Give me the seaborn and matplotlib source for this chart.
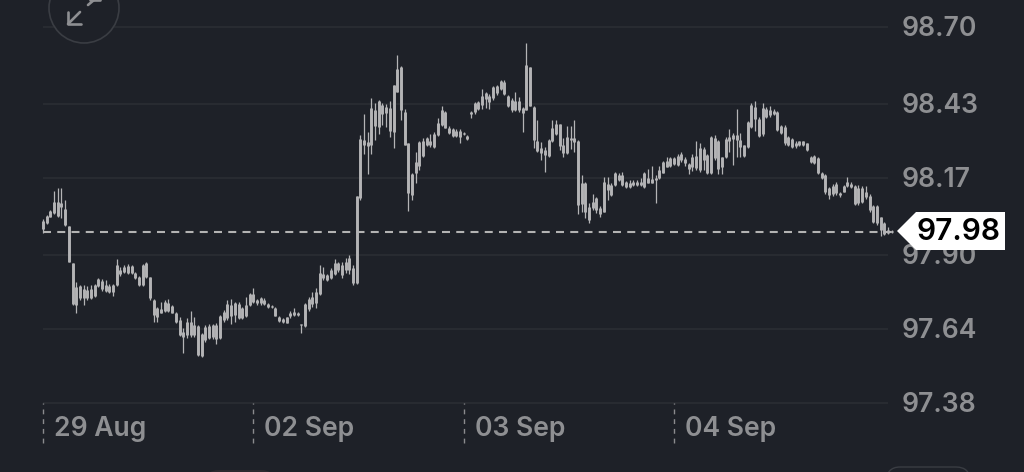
import pandas as pd
import seaborn as sns
import matplotlib
matplotlib.use("Agg")
import matplotlib.pyplot as plt
from matplotlib.patches import Circle, Polygon, FancyBboxPatch

# CANDLE DATA
highs = [98.025,98.040,98.057,98.125,98.133,98.133,98.092,98.001,97.873,97.804,
97.794,97.794,97.792,97.794,97.798,97.818,97.814,97.812,97.798,97.798,
97.884,97.858,97.864,97.867,97.864,97.841,97.826,97.868,97.875,97.823,
97.744,97.718,97.736,97.741,97.744,97.724,97.701,97.683,97.642,97.677,
97.704,97.683,97.654,97.627,97.654,97.656,97.657,97.660,97.689,97.706,
97.741,97.744,97.736,97.733,97.718,97.753,97.767,97.782,97.744,97.753,
97.747,97.732,97.724,97.716,97.685,97.677,97.683,97.704,97.715,97.698,
97.657,97.732,97.751,97.771,97.782,97.863,97.856,97.833,97.853,97.884,
97.876,97.875,97.889,97.899,97.864,98.107,98.320,98.393,98.332,98.451,
98.432,98.443,98.434,98.429,98.441,98.496,98.601,98.563,98.411,98.291,
98.186,98.262,98.301,98.309,98.312,98.324,98.332,98.379,98.422,98.405,
98.352,98.344,98.340,98.340,98.332,98.320,98.405,98.437,98.441,98.481,
98.473,98.464,98.492,98.496,98.513,98.513,98.461,98.449,98.473,98.453,
98.418,98.642,98.560,98.422,98.373,98.297,98.279,98.305,98.373,98.373,
98.361,98.309,98.352,98.352,98.373,98.303,98.182,98.157,98.083,98.113,
98.104,98.071,98.172,98.172,98.151,98.192,98.186,98.192,98.160,98.162,
98.162,98.162,98.168,98.192,98.203,98.212,98.180,98.212,98.230,98.242,
98.242,98.244,98.254,98.262,98.243,98.224,98.254,98.301,98.294,98.280,
98.254,98.317,98.321,98.303,98.245,98.315,98.341,98.327,98.411,98.327,
98.286,98.371,98.432,98.441,98.383,98.432,98.418,98.423,98.411,98.406,
98.356,98.356,98.317,98.309,98.298,98.301,98.301,98.294,98.247,98.251,
98.243,98.192,98.184,98.137,98.149,98.154,98.119,98.145,98.172,98.154,
98.145,98.145,98.140,98.142,98.114,98.075,98.075,98.034,98.017,97.997,97.987]

body_tops = [98.018,98.036,98.055,98.087,98.087,98.081,98.062,98.001,97.873,97.788,
97.791,97.779,97.777,97.779,97.794,97.814,97.809,97.794,97.791,97.794,
97.864,97.847,97.858,97.862,97.861,97.837,97.821,97.864,97.870,97.821,
97.741,97.712,97.709,97.736,97.732,97.720,97.695,97.671,97.630,97.665,
97.665,97.654,97.650,97.622,97.648,97.650,97.654,97.654,97.685,97.701,
97.727,97.724,97.730,97.727,97.712,97.724,97.763,97.763,97.741,97.747,
97.741,97.727,97.722,97.712,97.683,97.674,97.681,97.695,97.701,97.695,
97.657,97.727,97.744,97.753,97.771,97.837,97.833,97.829,97.847,97.870,
97.870,97.864,97.875,97.889,97.854,98.107,98.305,98.303,98.297,98.414,
98.408,98.440,98.426,98.420,98.414,98.496,98.554,98.560,98.402,98.291,
98.184,98.227,98.297,98.301,98.309,98.301,98.324,98.364,98.408,98.401,
98.347,98.340,98.336,98.334,98.329,98.318,98.402,98.434,98.437,98.457,
98.467,98.459,98.488,98.492,98.511,98.508,98.457,98.443,98.441,98.441,
98.414,98.566,98.560,98.420,98.301,98.274,98.268,98.303,98.344,98.361,
98.359,98.285,98.315,98.309,98.309,98.301,98.153,98.151,98.067,98.086,
98.098,98.063,98.157,98.148,98.145,98.186,98.182,98.180,98.157,98.153,
98.157,98.157,98.157,98.186,98.168,98.165,98.168,98.198,98.227,98.230,
98.239,98.241,98.247,98.254,98.236,98.219,98.243,98.247,98.274,98.271,
98.251,98.315,98.309,98.298,98.243,98.306,98.315,98.321,98.321,98.303,
98.284,98.368,98.426,98.420,98.376,98.415,98.411,98.409,98.406,98.403,
98.353,98.350,98.313,98.306,98.294,98.298,98.298,98.292,98.243,98.247,
98.239,98.186,98.181,98.134,98.142,98.149,98.116,98.142,98.154,98.149,
98.140,98.134,98.134,98.122,98.107,98.072,98.072,98.032,98.011,97.987,97.985]

body_bottoms = [97.990,98.013,98.034,98.048,98.036,98.067,98.005,97.876,97.727,97.724,
97.747,97.747,97.750,97.747,97.756,97.791,97.779,97.774,97.771,97.771,
97.794,97.833,97.841,97.837,97.837,97.818,97.794,97.794,97.821,97.747,
97.689,97.683,97.697,97.704,97.704,97.697,97.665,97.619,97.613,97.619,
97.619,97.619,97.548,97.545,97.601,97.607,97.610,97.603,97.607,97.671,
97.677,97.685,97.689,97.677,97.677,97.685,97.724,97.736,97.730,97.730,
97.727,97.716,97.716,97.687,97.669,97.665,97.662,97.685,97.689,97.689,
97.654,97.651,97.709,97.727,97.730,97.763,97.818,97.812,97.818,97.833,
97.847,97.829,97.847,97.847,97.801,97.801,98.098,98.285,98.282,98.285,
98.352,98.350,98.396,98.399,98.336,98.332,98.473,98.408,98.285,98.116,
98.110,98.186,98.212,98.247,98.285,98.285,98.277,98.320,98.356,98.347,
98.329,98.317,98.317,98.315,98.324,98.305,98.394,98.402,98.411,98.426,
98.446,98.437,98.449,98.467,98.481,98.464,98.422,98.408,98.408,98.408,
98.399,98.408,98.422,98.303,98.265,98.258,98.250,98.247,98.299,98.324,
98.282,98.258,98.258,98.303,98.297,98.075,98.078,98.051,98.024,98.063,
98.057,98.045,98.051,98.127,98.110,98.145,98.162,98.145,98.137,98.137,
98.145,98.145,98.145,98.137,98.153,98.153,98.162,98.168,98.188,98.209,
98.212,98.219,98.215,98.233,98.221,98.200,98.207,98.204,98.198,98.233,
98.186,98.189,98.239,98.200,98.207,98.243,98.298,98.306,98.303,98.280,
98.247,98.280,98.350,98.376,98.317,98.324,98.385,98.391,98.395,98.338,
98.329,98.292,98.286,98.280,98.282,98.286,98.286,98.268,98.227,98.224,
98.189,98.169,98.119,98.110,98.114,98.116,98.110,98.122,98.140,98.137,
98.079,98.081,98.087,98.102,98.058,98.017,98.013,97.987,97.973,97.978,97.980]

lows = [97.975,98.008,98.032,98.043,98.034,98.028,98.001,97.876,97.724,97.695,
97.741,97.724,97.741,97.744,97.751,97.786,97.774,97.771,97.765,97.756,
97.791,97.826,97.835,97.833,97.833,97.814,97.791,97.791,97.818,97.741,
97.665,97.665,97.695,97.701,97.701,97.695,97.662,97.615,97.554,97.607,
97.613,97.613,97.546,97.543,97.595,97.603,97.603,97.587,97.603,97.665,
97.671,97.656,97.665,97.674,97.674,97.681,97.720,97.730,97.724,97.724,
97.724,97.712,97.713,97.685,97.665,97.662,97.660,97.679,97.685,97.687,
97.624,97.648,97.704,97.718,97.712,97.760,97.812,97.809,97.814,97.829,
97.841,97.819,97.836,97.833,97.794,97.798,98.092,98.254,98.184,98.254,
98.303,98.324,98.356,98.350,98.312,98.274,98.473,98.373,98.285,98.054,
98.092,98.153,98.198,98.242,98.282,98.279,98.274,98.317,98.352,98.344,
98.324,98.312,98.312,98.294,98.320,98.303,98.382,98.396,98.408,98.412,
98.414,98.412,98.443,98.461,98.478,98.461,98.420,98.402,98.405,98.402,
98.332,98.408,98.422,98.274,98.262,98.233,98.192,98.244,98.297,98.320,
98.268,98.242,98.254,98.270,98.262,98.045,98.051,98.028,98.013,98.057,
98.048,98.034,98.049,98.092,98.108,98.141,98.160,98.141,98.133,98.133,
98.141,98.141,98.141,98.133,98.151,98.151,98.083,98.165,98.186,98.207,
98.209,98.215,98.212,98.227,98.212,98.183,98.196,98.198,98.192,98.198,
98.184,98.183,98.233,98.184,98.184,98.239,98.262,98.216,98.245,98.243,
98.243,98.274,98.344,98.333,98.315,98.317,98.379,98.383,98.391,98.333,
98.324,98.286,98.282,98.274,98.274,98.282,98.282,98.264,98.224,98.219,
98.184,98.165,98.114,98.095,98.107,98.110,98.104,98.119,98.137,98.134,
98.075,98.075,98.081,98.095,98.052,98.013,98.005,97.966,97.970,97.973,97.978]

price_ticks = [98.70, 98.43, 98.17, 97.90, 97.64, 97.38]
date_ticks = [0, 57, 114, 171]
date_labels = ["29 Aug", "02 Sep", "03 Sep", "04 Sep"]
last_price = 97.98

# COLOURS
bg = "#1e2128"
grid_col = "#292c32"
text_col = "#8e8f92"
candle_col = "#b4b4b6"

sns.set_theme(style="dark", rc={"figure.facecolor": bg, "axes.facecolor": bg})
plt.rcParams["font.family"] = ["Inter", "DejaVu Sans"]

# one row per candle end, so that seaborn draws each candle as its own line
n = len(highs)
wicks = pd.DataFrame({
    "candle": list(range(n)) * 2,
    "price": highs + lows,
})
bodies = pd.DataFrame({
    "candle": list(range(n)) * 2,
    "price": body_tops + body_bottoms,
})

fig = plt.figure(figsize=(10.24, 4.72), dpi=100)
ax = fig.add_axes([0, 0, 1, 1])
step = 3.69
ax.set_xlim(-43 / step, (1024 - 43) / step)
ax.set_ylim(97.38 + (403 - 472) * 0.00351, 97.38 + 403 * 0.00351)

# grid and date markers
ax.hlines(price_ticks, 0, 229, color=grid_col, linewidth=1.4, zorder=1)
ax.vlines(date_ticks, 97.24, 97.38, color="#8a8b8e", linewidth=1.0,
          linestyles=(0, (3.5, 3.5)), zorder=1)

# candles
sns.lineplot(data=wicks, x="candle", y="price", units="candle", estimator=None,
             color=candle_col, linewidth=0.9, solid_capstyle="butt",
             legend=False, ax=ax, zorder=3)
sns.lineplot(data=bodies, x="candle", y="price", units="candle", estimator=None,
             color=candle_col, linewidth=2.1, solid_capstyle="butt",
             legend=False, ax=ax, zorder=3)

# last price line
ax.hlines(last_price, 0, 230.5, color="#b3b3b3", linewidth=1.5,
          linestyles=(0, (3.84, 3.0)), zorder=2)

ax.set_xlabel("")
ax.set_ylabel("")
ax.set_xticks([])
ax.set_yticks([])
for s in ax.spines.values():
    s.set_visible(False)

for p in price_ticks:
    ax.text(232.6, p - 0.007, f"{p:.2f}", color=text_col, fontsize=19.1, fontweight="semibold",
            va="center", ha="left", zorder=4)
for d, lab in zip(date_ticks, date_labels):
    ax.text(d + 3, 97.287, lab, color=text_col, fontsize=19.1, fontweight="semibold",
            va="center", ha="left", zorder=4)

# overlay in pixels for the screen furniture
top = fig.add_axes([0, 0, 1, 1], facecolor="none")
top.set_xlim(0, 1024)
top.set_ylim(472, 0)
top.axis("off")

top.add_patch(Polygon([(897, 231), (916, 212), (1005, 212), (1005, 250), (916, 250)],
                      closed=True, facecolor="white", edgecolor="none", zorder=5))
top.text(958, 232, "97.98", color="black", fontsize=21.5, fontweight="semibold",
         va="center", ha="center", zorder=6)

# expand button, cut by the top edge
top.add_patch(Circle((84, 8), 35, facecolor=bg, edgecolor="#3a3d43", linewidth=1.2, zorder=5))
for pts in ([(68, 24), (80, 12)], [(68, 12), (68, 24), (81, 24)],
            [(88, 5), (100, -5)], [(90, 0), (100, 0), (100, -8)]):
    top.plot(*zip(*pts), color="#8e8f92", linewidth=1.9, zorder=6)

# buttons peeking in at the bottom edge
top.add_patch(FancyBboxPatch((205, 470), 70, 30, boxstyle="round,pad=0,rounding_size=14",
                             facecolor="#2c2a30", edgecolor="none", zorder=5))
top.add_patch(FancyBboxPatch((886, 467), 84, 30, boxstyle="round,pad=0,rounding_size=14",
                             facecolor="none", edgecolor="#3a3d43", linewidth=1.0, zorder=5))

fig.savefig("out.png", dpi=100, facecolor=bg)
